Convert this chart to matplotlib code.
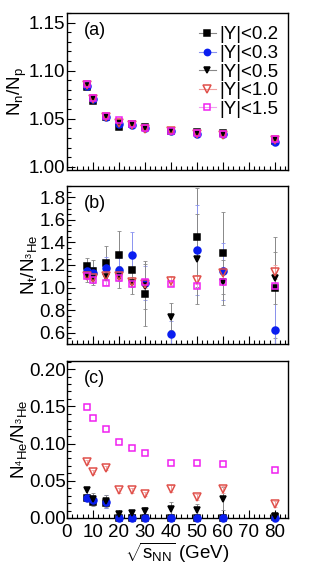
import numpy as np
import matplotlib
matplotlib.use("Agg")
import matplotlib.pyplot as plt
from matplotlib.lines import Line2D
from matplotlib.ticker import MultipleLocator

plt.rcParams['font.family'] = ['Liberation Sans', 'DejaVu Sans']
plt.rcParams['mathtext.fontset'] = 'custom'
plt.rcParams['mathtext.rm'] = 'Liberation Sans'
plt.rcParams['mathtext.it'] = 'Liberation Sans'

# collision energies (GeV)
energy = [7.7, 10, 15, 20, 25, 30, 40, 50, 60, 80]
labels = ['|Y|<0.2', '|Y|<0.3', '|Y|<0.5', '|Y|<1.0', '|Y|<1.5']

# (a) Nn/Np
np_y02 = [1.083, 1.068, 1.052, 1.041, 1.044, 1.041, 1.037, 1.036, 1.035, 1.027]
np_y03 = [1.084, 1.070, 1.052, 1.045, 1.043, 1.040, 1.037, 1.034, 1.034, 1.026]
np_y05 = [1.084, 1.070, 1.052, 1.046, 1.043, 1.040, 1.037, 1.034, 1.034, 1.028]
np_y10 = [1.085, 1.071, 1.052, 1.046, 1.043, 1.039, 1.037, 1.034, 1.033, 1.028]
np_y15 = [1.086, 1.072, 1.053, 1.049, 1.044, 1.040, 1.037, 1.035, 1.034, 1.029]

# (b) Nt/N3He
t_y02 = [1.188, 1.144, 1.218, 1.291, 1.159, 0.947, np.nan, 1.444, 1.306, 1.000]
t_y02e = [0.07, 0.10, 0.15, 0.21, 0.15, 0.29, 0.0, 0.44, 0.36, 0.45]
t_y03 = [1.144, 1.130, 1.174, 1.159, 1.291, 1.040, 0.588, 1.335, 1.144, 0.620]
t_y03e = [0.05, 0.05, 0.10, 0.10, 0.20, 0.15, 0.12, 0.40, 0.25, 0.40]
t_y05 = [1.100, 1.076, 1.091, 1.094, 1.040, 1.012, 0.740, 1.253, 1.047, 1.082]
t_y05e = [0.05, 0.05, 0.07, 0.10, 0.10, 0.20, 0.12, 0.40, 0.20, 0.23]
t_y10 = [1.106, 1.085, 1.100, 1.106, 1.047, 1.035, 1.062, 1.070, 1.129, 1.138]
t_y10e = [0.03, 0.03, 0.03, 0.03, 0.03, 0.04, 0.04, 0.04, 0.05, 0.06]
t_y15 = [1.100, 1.070, 1.040, 1.085, 1.032, 1.047, 1.032, 1.012, 1.047, 1.018]
t_y15e = [0.015, 0.015, 0.015, 0.015, 0.015, 0.02, 0.02, 0.02, 0.02, 0.02]

# (c) N4He/N3He
he_y02 = [0.027, 0.021, 0.0195, 0.0005, 0.0005, 0.0005, 0.0005, 0.0005, 0.0005, 0.001]
he_y02e = [0.004, 0.005, 0.006, 0.0, 0.0, 0.0, 0.0, 0.0, 0.0, 0.0]
he_y03 = [0.027, 0.024, 0.022, 0.0005, 0.0005, 0.0005, 0.0005, 0.0005, 0.0005, 0.0005]
he_y03e = [0.004, 0.007, 0.009, 0.0, 0.0, 0.0, 0.0, 0.0, 0.0, 0.0]
he_y05 = [0.037, 0.026, 0.023, 0.006, 0.007, 0.010, 0.012, 0.011, 0.026, 0.003]
he_y05e = [0.005, 0.007, 0.008, 0.004, 0.004, 0.005, 0.010, 0.008, 0.015, 0.003]
he_y10 = [0.075, 0.062, 0.067, 0.037, 0.037, 0.032, 0.0395, 0.028, 0.0386, 0.019]
he_y10e = [0.003, 0.003, 0.003, 0.003, 0.003, 0.003, 0.005, 0.004, 0.005, 0.004]
he_y15 = [0.149, 0.1345, 0.1195, 0.102, 0.0945, 0.088, 0.074, 0.0745, 0.0727, 0.0645]

styles = [
    dict(marker='s', ms=4.5, mfc='black', mec='black', ecol='#888888'),
    dict(marker='o', ms=5, mfc='#0a1ef0', mec='#0a1ef0', ecol='#8a93f0'),
    dict(marker='v', ms=5, mfc='black', mec='black', ecol='#888888'),
    dict(marker='v', ms=6, mfc='none', mec='#e0504a', ecol='#f0a0a0'),
    dict(marker='s', ms=5, mfc='none', mec='#f020f0', ecol='#f0a0f0'),
]

fig = plt.figure(figsize=(3.16, 5.74), dpi=100)
ax_a = fig.add_axes([0.212, 0.7038, 0.699, 0.2735])
ax_b = fig.add_axes([0.212, 0.4007, 0.699, 0.2753])
ax_c = fig.add_axes([0.212, 0.0976, 0.699, 0.2735])


def draw(ax, series, errs):
    for vals, err, st in zip(series, errs, styles):
        ax.errorbar(energy, vals, yerr=err, fmt='none', ecolor=st['ecol'],
                    elinewidth=0.7, capsize=1.2, capthick=0.6, zorder=2)
        ax.plot(energy, vals, ls='none', marker=st['marker'], ms=st['ms'],
                mfc=st['mfc'], mec=st['mec'], mew=1.1, zorder=3, clip_on=False)


draw(ax_a, [np_y02, np_y03, np_y05, np_y10, np_y15], [None] * 5)
draw(ax_b, [t_y02, t_y03, t_y05, t_y10, t_y15],
     [t_y02e, t_y03e, t_y05e, t_y10e, t_y15e])
draw(ax_c, [he_y02, he_y03, he_y05, he_y10, he_y15],
     [he_y02e, he_y03e, he_y05e, he_y10e, None])

ax_a.set_ylim(0.9966, 1.16)
ax_b.set_ylim(0.5, 1.9)
ax_c.set_ylim(0.0, 0.211)

ax_a.yaxis.set_major_locator(MultipleLocator(0.05))
ax_a.yaxis.set_minor_locator(MultipleLocator(0.01))
ax_b.yaxis.set_major_locator(MultipleLocator(0.2))
ax_b.yaxis.set_minor_locator(MultipleLocator(0.05))
ax_c.yaxis.set_major_locator(MultipleLocator(0.05))
ax_c.yaxis.set_minor_locator(MultipleLocator(0.01))

ax_a.yaxis.set_major_formatter(plt.FormatStrFormatter('%.2f'))
ax_b.yaxis.set_major_formatter(plt.FormatStrFormatter('%.1f'))
ax_c.yaxis.set_major_formatter(plt.FormatStrFormatter('%.2f'))

for ax, tag in zip([ax_a, ax_b, ax_c], ['(a)', '(b)', '(c)']):
    ax.set_xlim(0, 85)
    ax.xaxis.set_major_locator(MultipleLocator(10))
    ax.xaxis.set_minor_locator(MultipleLocator(2))
    ax.tick_params(which='both', direction='in', top=False, right=False,
                   labelsize=13.5, pad=1, width=0.8)
    ax.tick_params(which='major', length=6)
    ax.tick_params(which='minor', length=3)
    for sp in ax.spines.values():
        sp.set_linewidth(1.0)
    ax.text(0.075, 0.86, tag, transform=ax.transAxes, fontsize=13)

ax_a.tick_params(labelbottom=False)
ax_b.tick_params(labelbottom=False)
ax_c.tick_params(axis='x', pad=4)

ax_a.set_ylabel(r'N$_{\rm n}$/N$_{\rm p}$', fontsize=13.5, labelpad=0)
ax_b.set_ylabel(r'N$_{\rm t}$/N$_{^3\rm He}$', fontsize=13.5, labelpad=0)
ax_c.set_ylabel(r'N$_{^4\rm He}$/N$_{^3\rm He}$', fontsize=13.5, labelpad=0)
ax_c.set_xlabel(r'$\sqrt{\rm s_{NN}}$ (GeV)', fontsize=13.5, labelpad=0)

handles = [Line2D([], [], color=st['ecol'], lw=0.8, marker=st['marker'],
                  ms=st['ms'] - 0.5, mfc=st['mfc'], mec=st['mec'], mew=1.1)
           for st in styles]
ax_a.legend(handles, labels, loc='upper right', frameon=False, fontsize=13.5,
            handlelength=0.9, handletextpad=0.2, labelspacing=0.08,
            borderaxespad=0.1, bbox_to_anchor=(1.0, 0.975))

fig.savefig('out.png', dpi=100)
